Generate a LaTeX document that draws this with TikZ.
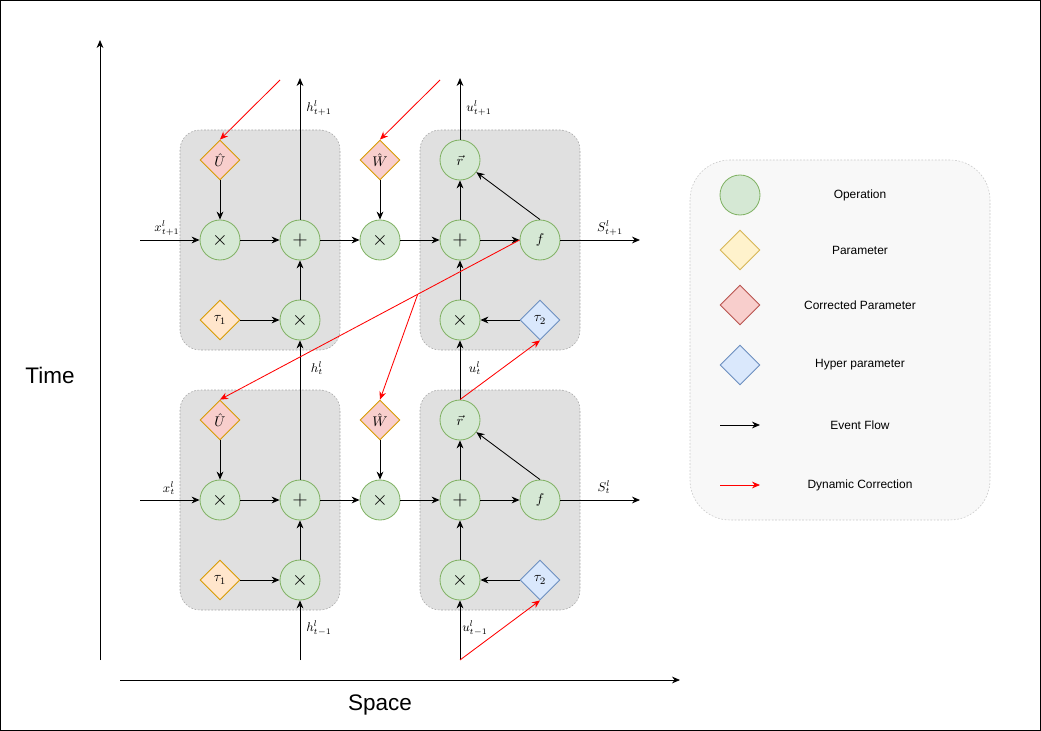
\documentclass[tikz,border=0pt]{standalone}
\usepackage{fontspec}
\newfontfamily\labelsans{Liberation Sans}
\usetikzlibrary{arrows.meta,shapes.geometric}

\definecolor{opfill}{HTML}{D5E8D4}
\definecolor{opline}{HTML}{82B366}
\definecolor{parfill}{HTML}{FFF2CC}
\definecolor{parline}{HTML}{D6B656}
\definecolor{taufill}{HTML}{FFE6CC}
\definecolor{tauline}{HTML}{D79B00}
\definecolor{corfill}{HTML}{F8CECC}
\definecolor{corline}{HTML}{B85450}
\definecolor{hypfill}{HTML}{DAE8FC}
\definecolor{hypline}{HTML}{6C8EBF}
\definecolor{blockfill}{HTML}{E0E0E0}
\definecolor{blockline}{HTML}{A6A6A6}
\definecolor{keyfill}{HTML}{F8F8F8}
\definecolor{keyline}{HTML}{C8C8C8}

\begin{document}
\begin{tikzpicture}[x=0.5cm,y=-0.5cm]
		\tikzset{op/.style = {shape=circle, draw=opline, fill=opfill, line width=0.6pt, minimum size=1cm, inner sep=0pt, font=\Large},
			diam/.style = {shape=diamond, aspect=1, minimum size=1cm, inner sep=0pt, line width=0.6pt},
			tau/.style = {diam, draw=tauline, fill=taufill},
			cor/.style = {diam, draw=tauline, fill=corfill},
			hyp/.style = {diam, draw=hypline, fill=hypfill},
			block/.style = {draw=blockline, fill=blockfill, dash pattern=on 1.2pt off 1.2pt, rounded corners=0.5cm},
			lbl/.style = {font=\small, inner sep=0pt},
			keytext/.style = {font=\labelsans\fontsize{8.5}{10}\selectfont},
			flow/.style = {-{Stealth[length=2mm,width=1.7mm]}, line width=0.6pt},
			corr/.style = {red, -{Stealth[length=2mm,width=1.7mm]}, line width=0.6pt}}

		\useasboundingbox (0,0) rectangle (52.05,36.55);
		\draw[line width=0.8pt] (0.03,0.03) rectangle (52.02,36.52);

		\draw[block] (9,6.5) rectangle (17,17.5);
		\draw[block] (21,6.5) rectangle (29,17.5);
		\draw[block] (9,19.5) rectangle (17,30.5);
		\draw[block] (21,19.5) rectangle (29,30.5);
		\draw[draw=keyline, fill=keyfill, dash pattern=on 1.2pt off 1.2pt, rounded corners=1cm] (34.5,8) rectangle (49.5,26);

		\node[cor] (U_2) at (11,8) {$\hat{U}$};
		\node[op] (A_2) at (11,12) {$\times$};
		\node[tau] (T_2) at (11,16) {$\tau_1$};
		\node[op] (B_2) at (15,12) {$+$};
		\node[op] (C_2) at (15,16) {$\times$};
		\node[cor] (W_2) at (19,8) {$\hat{W}$};
		\node[op] (D_2) at (19,12) {$\times$};
		\node[op, font=\normalsize] (R_2) at (23,8) {$\vec{r}$};
		\node[op] (E_2) at (23,12) {$+$};
		\node[op] (G_2) at (23,16) {$\times$};
		\node[op, font=\normalsize] (F_2) at (27,12) {$f$};
		\node[hyp] (K_2) at (27,16) {$\tau_2$};

		\node[cor] (U_1) at (11,21) {$\hat{U}$};
		\node[op] (A_1) at (11,25) {$\times$};
		\node[tau] (T_1) at (11,29) {$\tau_1$};
		\node[op] (B_1) at (15,25) {$+$};
		\node[op] (C_1) at (15,29) {$\times$};
		\node[cor] (W_1) at (19,21) {$\hat{W}$};
		\node[op] (D_1) at (19,25) {$\times$};
		\node[op, font=\normalsize] (R_1) at (23,21) {$\vec{r}$};
		\node[op] (E_1) at (23,25) {$+$};
		\node[op] (G_1) at (23,29) {$\times$};
		\node[op, font=\normalsize] (F_1) at (27,25) {$f$};
		\node[hyp] (K_1) at (27,29) {$\tau_2$};

		\coordinate (xin_2) at (7,12);
		\coordinate (xin_1) at (7,25);
		\coordinate (sout_2) at (32,12);
		\coordinate (sout_1) at (32,25);
		\coordinate (hout_2) at (15,3.9);
		\coordinate (uout_2) at (23,3.9);
		\coordinate (hin_0) at (15,33);
		\coordinate (uin_0) at (23,33);
		\coordinate (ucor_2) at (14,4);
		\coordinate (wcor_2) at (22,4);

		\node[lbl] (x_2) at (8.35,11.4) {$x^{l}_{t+1}$};
		\node[lbl] (x_1) at (8.45,24.4) {$x^{l}_{t}$};
		\node[lbl] (s_2) at (30.5,11.4) {$S^{l}_{t+1}$};
		\node[lbl] (s_1) at (30.2,24.35) {$S^{l}_{t}$};
		\node[lbl] (h_2) at (15.95,5.4) {$h^{l}_{t+1}$};
		\node[lbl] (u_2) at (23.95,5.4) {$u^{l}_{t+1}$};
		\node[lbl] (h_1) at (15.85,18.4) {$h^{l}_{t}$};
		\node[lbl] (u_1) at (23.75,18.4) {$u^{l}_{t}$};
		\node[lbl] (h_0) at (15.95,31.4) {$h^{l}_{t-1}$};
		\node[lbl] (u_0) at (23.75,31.4) {$u^{l}_{t-1}$};

		\draw[flow] (xin_2)--(A_2);
		\draw[flow] (U_2)--(A_2);
		\draw[flow] (A_2)--(B_2);
		\draw[flow] (T_2)--(C_2);
		\draw[flow] (C_2)--(B_2);
		\draw[flow] (B_2)--(hout_2);
		\draw[flow] (B_2)--(D_2);
		\draw[flow] (W_2)--(D_2);
		\draw[flow] (D_2)--(E_2);
		\draw[flow] (E_2)--(F_2);
		\draw[flow] (E_2)--(R_2);
		\draw[flow] (F_2.north)--(R_2);
		\draw[flow] (R_2)--(uout_2);
		\draw[flow] (K_2)--(G_2);
		\draw[flow] (G_2)--(E_2);
		\draw[flow] (F_2)--(sout_2);

		\draw[flow] (B_1)--(C_2);
		\draw[flow] (R_1)--(G_2);

		\draw[flow] (xin_1)--(A_1);
		\draw[flow] (U_1)--(A_1);
		\draw[flow] (A_1)--(B_1);
		\draw[flow] (T_1)--(C_1);
		\draw[flow] (C_1)--(B_1);
		\draw[flow] (B_1)--(D_1);
		\draw[flow] (W_1)--(D_1);
		\draw[flow] (D_1)--(E_1);
		\draw[flow] (E_1)--(F_1);
		\draw[flow] (E_1)--(R_1);
		\draw[flow] (F_1.north)--(R_1);
		\draw[flow] (K_1)--(G_1);
		\draw[flow] (G_1)--(E_1);
		\draw[flow] (F_1)--(sout_1);
		\draw[flow] (hin_0)--(C_1);
		\draw[flow] (uin_0)--(G_1);

		\draw[corr] (ucor_2)--(U_2.north);
		\draw[corr] (wcor_2)--(W_2.north);
		\draw[corr] (F_2.west)-- coordinate[pos=0.34] (fork) (U_1.north);
		\draw[corr] (fork)--(W_1.north);
		\draw[corr] (R_1.north)--(K_2.south);
		\draw[corr] (uin_0)--(K_1.south);

		\coordinate (time_0) at (5,33);
		\coordinate (time_1) at (5,2);
		\coordinate (space_0) at (6,34);
		\coordinate (space_1) at (34,34);
		\draw[flow] (time_0)--(time_1);
		\draw[flow] (space_0)--(space_1);
		\node[font=\labelsans\fontsize{16}{19}\selectfont] (time) at (2.5,18.75) {Time};
		\node[font=\labelsans\fontsize{16}{19}\selectfont] (space) at (19,35.25) {Space};

		\node[op] (L_1) at (37,9.75) {};
		\node[diam, draw=parline, fill=parfill] (L_2) at (37,12.5) {};
		\node[diam, draw=corline, fill=corfill] (L_3) at (37,15.25) {};
		\node[hyp] (L_4) at (37,18.25) {};
		\coordinate (L_5a) at (36,21.25);
		\coordinate (L_5b) at (38,21.25);
		\coordinate (L_6a) at (36,24.25);
		\coordinate (L_6b) at (38,24.25);
		\draw[flow] (L_5a)--(L_5b);
		\draw[corr] (L_6a)--(L_6b);

		\node[keytext] (K_op) at (43,9.75) {Operation};
		\node[keytext] (K_par) at (43,12.5) {Parameter};
		\node[keytext] (K_cor) at (43,15.25) {Corrected Parameter};
		\node[keytext] (K_hyp) at (43,18.25) {Hyper parameter};
		\node[keytext] (K_flow) at (43,21.25) {Event Flow};
		\node[keytext] (K_corr) at (43,24.25) {Dynamic Correction};

	\end{tikzpicture}
\end{document}
